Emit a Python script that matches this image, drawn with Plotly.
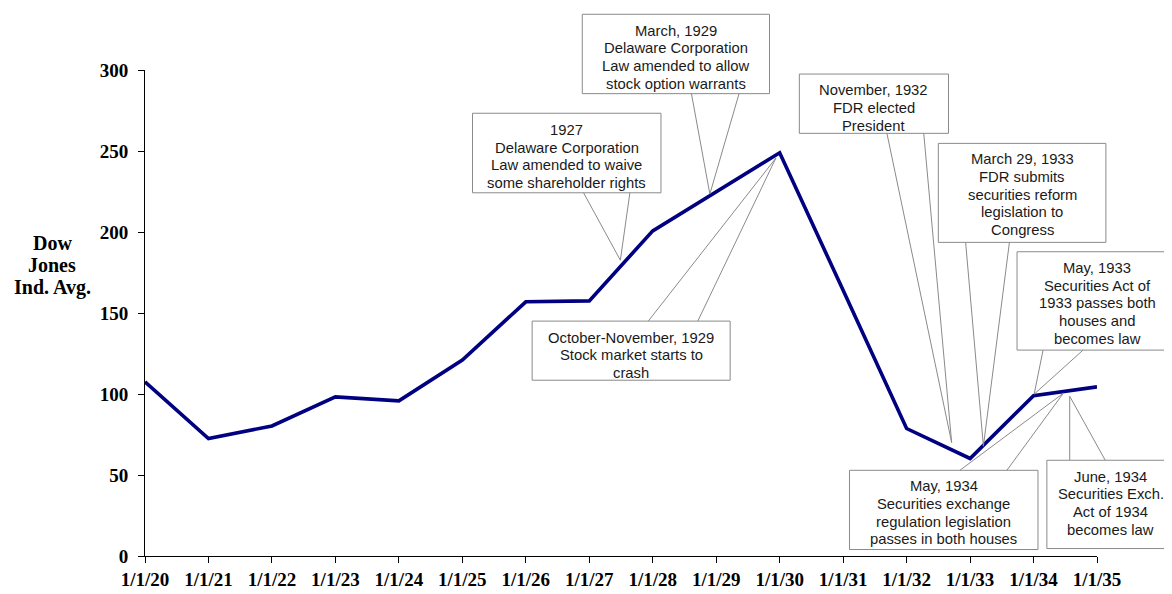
import plotly.graph_objects as go

# ---- data ----
date_labels = ["1/1/20", "1/1/21", "1/1/22", "1/1/23", "1/1/24", "1/1/25", "1/1/26", "1/1/27",
               "1/1/28", "1/1/29", "1/1/30", "1/1/31", "1/1/32", "1/1/33", "1/1/34", "1/1/35"]
years = list(range(1920, 1936))
dow_values = [107.5, 72.5, 80.3, 98.2, 95.8, 121.0, 156.9, 157.5,
              200.7, 224.5, 248.9, 164.0, 78.7, 60.2, 99.0, 104.4]
y_ticks = [0, 50, 100, 150, 200, 250, 300]

callout_texts = [
    ["1927", "Delaware Corporation", "Law amended to waive", "some shareholder rights"],
    ["March, 1929", "Delaware Corporation", "Law amended to allow", "stock option warrants"],
    ["October-November, 1929", "Stock market starts to", "crash"],
    ["November, 1932", "FDR elected", "President"],
    ["March 29, 1933", "FDR submits", "securities reform", "legislation to", "Congress"],
    ["May, 1933", "Securities Act of", "1933 passes both", "houses and", "becomes law"],
    ["May, 1934", "Securities exchange", "regulation legislation", "passes in both houses"],
    ["June, 1934", "Securities Exch.", "Act of 1934", "becomes law"],
]
# where each callout points (year, index value)
callout_tips = [(1927.49, 182.6), (1928.90, 223.4), (1929.94, 245.6), (1932.71, 70.0),
                (1933.21, 67.8), (1934.01, 99.9), (1934.47, 100.5), (1934.57, 98.6)]

# ---- layout of the callout boxes (in axis units) ----
callout_boxes = [  # x0, x1, y0, y1, text centre x, text centre y, wedge base x0, x1, side
    (1925.16, 1928.13, 224.2, 273.3, 1926.645, 246.7, 1926.91, 1927.64, "bottom"),
    (1926.89, 1929.84, 285.4, 334.4, 1928.365, 307.9, 1928.61, 1929.36, "bottom"),
    (1926.10, 1929.22, 108.5, 145.0, 1927.66, 124.0, 1927.93, 1928.71, "top"),
    (1930.31, 1932.66, 260.9, 297.5, 1931.485, 276.6, 1931.69, 1932.27, "bottom"),
    (1932.50, 1935.14, 193.6, 254.7, 1933.82, 223.1, 1932.93, 1933.62, "bottom"),
    (1933.74, 1936.28, 127.1, 187.8, 1935.0, 155.9, 1934.15, 1934.78, "bottom"),
    (1931.10, 1934.07, 4.0, 52.9, 1932.585, 26.6, 1932.84, 1933.58, "top"),
    (1934.21, 1936.37, 4.6, 59.1, 1935.22, 32.6, 1934.57, 1935.13, "top"),
]
LINE_STEP = 10.87  # text line spacing in axis units (~17.6 px)

X_RANGE = [1920, 1935]
Y_RANGE = [0, 300]
PLOT_H = 486


def px(x):
    return (x - X_RANGE[0]) / (X_RANGE[1] - X_RANGE[0])


def py(y):
    return (y - Y_RANGE[0]) / (Y_RANGE[1] - Y_RANGE[0])


fig = go.Figure()
fig.add_trace(go.Scatter(
    x=years, y=dow_values, mode="lines",
    line=dict(color="#000080", width=3.6),
    showlegend=False, hoverinfo="skip", cliponaxis=False,
))

shapes = []
annotations = []
GREY = "#8a8a8a"
text_font = dict(family="Arial, Liberation Sans, sans-serif", size=14.8, color="#1a1a1a")
for lines, tip, box in zip(callout_texts, callout_tips, callout_boxes):
    x0, x1, y0, y1, tx, ty, bx0, bx1, side = box
    by = y0 if side == "bottom" else y1
    shapes.append(dict(type="rect", xref="paper", yref="paper",
                       x0=px(x0), x1=px(x1), y0=py(y0), y1=py(y1),
                       line=dict(color=GREY, width=1), fillcolor="white", layer="above"))
    for bx in (bx0, bx1):
        shapes.append(dict(type="line", xref="paper", yref="paper",
                           x0=px(bx), y0=py(by), x1=px(tip[0]), y1=py(tip[1]),
                           line=dict(color=GREY, width=1), layer="above"))
    n = len(lines)
    for i, line in enumerate(lines):
        yy = ty + ((n - 1) / 2 - i) * LINE_STEP
        annotations.append(dict(xref="paper", yref="paper", x=px(tx), y=py(yy),
                                text=line, showarrow=False, xanchor="center",
                                yanchor="middle", align="center", font=text_font))

title_lines = ["Dow", "Jones", "Ind. Avg."]
for i, t in enumerate(title_lines):
    annotations.append(dict(xref="paper", yref="paper", x=(52 - 137) / 952 - 0.0084,
                            y=(556 - 62 - (243 - 62) - i * 22) / PLOT_H,
                            text="<b>%s</b>" % t, showarrow=False,
                            xanchor="center", yanchor="middle", align="center",
                            font=dict(family="Times New Roman, Liberation Serif, serif",
                                      size=20, color="black")))

axis_font = dict(family="Times New Roman, Liberation Serif, serif", size=19, color="black",
                 weight="bold")

fig.update_layout(
    width=1172, height=594,
    margin=dict(l=137, r=83, t=62, b=46),
    paper_bgcolor="white", plot_bgcolor="white",
    shapes=shapes, annotations=annotations,
    xaxis=dict(range=X_RANGE, tickvals=years, ticktext=date_labels, automargin=False,
               showgrid=False, zeroline=False, showline=True, linecolor="black", linewidth=1,
               ticks="outside", ticklen=6, tickcolor="black", tickwidth=1,
               tickfont=axis_font, ticklabelstandoff=0, fixedrange=True),
    yaxis=dict(range=Y_RANGE, tickvals=y_ticks, automargin=False,
               showgrid=False, zeroline=False, showline=True, linecolor="black", linewidth=1,
               ticks="outside", ticklen=6, tickcolor="black", tickwidth=1,
               tickfont=axis_font, ticklabelstandoff=6, fixedrange=True),
)

fig.write_html("out.html")
